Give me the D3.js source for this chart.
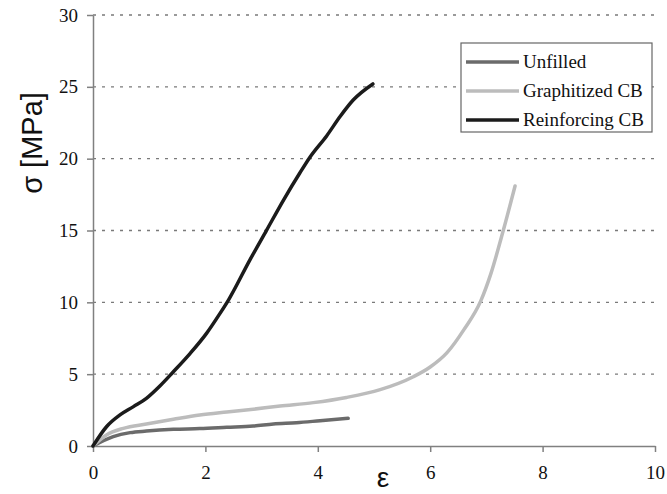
<!DOCTYPE html>
<html>
<head>
<meta charset="utf-8">
<script src="https://cdn.jsdelivr.net/npm/d3@7"></script>
<style>
  body { margin: 0; background: #fff; }
</style>
</head>
<body>
<div id="holder"></div>
<script>
const w = 667;
const h = 494;

// data (strain, stress in MPa)
const unfilledStrain = [0, 0.36, 0.66, 0.95, 1.43, 1.90, 2.38, 2.85, 3.21, 3.62, 4.04, 4.54];
const unfilledStress = [0, 0.65, 0.93, 1.04, 1.16, 1.21, 1.30, 1.39, 1.53, 1.62, 1.76, 1.93];

const graphStrain = [0, 0.24, 0.54, 0.95, 1.43, 1.90, 2.38, 2.85, 3.33, 3.92, 4.51, 5.11, 5.70, 6.0, 6.3, 6.6, 6.9, 7.08, 7.3, 7.51];
const graphStress = [0, 0.77, 1.23, 1.53, 1.86, 2.16, 2.37, 2.56, 2.78, 3.02, 3.38, 3.92, 4.82, 5.5, 6.5, 8.1, 10.1, 12.0, 15.0, 18.1];

const reinfStrain = [0, 0.24, 0.48, 0.72, 0.95, 1.19, 1.43, 1.73, 2.02, 2.26, 2.41, 2.79, 3.09, 3.39, 3.68, 3.86, 4.16, 4.40, 4.63, 4.98];
const reinfStress = [0, 1.34, 2.16, 2.74, 3.32, 4.18, 5.17, 6.45, 7.84, 9.23, 10.16, 12.94, 15.03, 17.12, 19.0, 20.1, 21.6, 22.95, 24.08, 25.2];

const seriesNames = ["Unfilled", "Graphitized CB", "Reinforcing CB"];
const xTicks = [0, 2, 4, 6, 8, 10];
const yTicks = [0, 5, 10, 15, 20, 25, 30];

const colors = {
    "Unfilled": "#6b6b6b",
    "Graphitized CB": "#bcbcbc",
    "Reinforcing CB": "#1b1b1b"
};

const series = [
    { name: "Unfilled", pts: unfilledStrain.map((x, i) => [x, unfilledStress[i]]) },
    { name: "Graphitized CB", pts: graphStrain.map((x, i) => [x, graphStress[i]]) },
    { name: "Reinforcing CB", pts: reinfStrain.map((x, i) => [x, reinfStress[i]]) }
];

const svg = d3.select("#holder")
    .append("svg")
    .attr("width", w)
    .attr("height", h)

const x = d3.scaleLinear().domain([0, 10]).range([93, 655]);
const y = d3.scaleLinear().domain([0, 30]).range([446, 15]);

// dotted gridlines
svg.selectAll(".grid")
    .data(yTicks.filter(d => d > 0))
    .join("line")
    .attr("class", "grid")
    .attr("x1", x(0))
    .attr("x2", x(10))
    .attr("y1", d => y(d))
    .attr("y2", d => y(d))
    .attr("stroke", "#7a7a7a")
    .attr("stroke-width", 1.3)
    .attr("stroke-dasharray", "3,6")

// axes
const xAxis = d3.axisBottom(x).tickValues(xTicks).tickSize(6).tickSizeOuter(0).tickPadding(14);
const yAxis = d3.axisLeft(y).tickValues(yTicks).tickSize(6).tickSizeOuter(0).tickPadding(9);

svg.append("g")
    .attr("transform", `translate(0,${y(0)})`)
    .call(xAxis)
    .call(g => g.selectAll(".domain, line").attr("stroke", "#808080").attr("stroke-width", 1.5))
    .call(g => g.selectAll("text")
        .style("font-family", "'Liberation Serif', 'Times New Roman', serif")
        .style("font-size", "19px")
        .attr("fill", "#111"))

svg.append("g")
    .attr("transform", `translate(${x(0)},0)`)
    .call(yAxis)
    .call(g => g.selectAll(".domain, line").attr("stroke", "#808080").attr("stroke-width", 1.5))
    .call(g => g.selectAll("text")
        .style("font-family", "'Liberation Serif', 'Times New Roman', serif")
        .style("font-size", "19px")
        .attr("fill", "#111"))

// curves
const line = d3.line()
    .x(d => x(d[0]))
    .y(d => y(d[1]))
    .curve(d3.curveMonotoneX)

svg.selectAll(".curve")
    .data(series)
    .join("path")
    .attr("class", "curve")
    .attr("d", d => line(d.pts))
    .attr("fill", "none")
    .attr("stroke", d => colors[d.name])
    .attr("stroke-width", 3.5)
    .attr("stroke-linecap", "round")
    .attr("stroke-linejoin", "round")

// axis titles
svg.append("text")
    .attr("transform", "translate(42,143) rotate(-90)")
    .attr("text-anchor", "middle")
    .style("font-family", "'Liberation Sans', Arial, sans-serif")
    .style("font-size", "29px")
    .attr("fill", "#111")
    .text("σ [MPa]")

svg.append("text")
    .attr("x", 383)
    .attr("y", 487)
    .attr("text-anchor", "middle")
    .style("font-family", "'Liberation Sans', Arial, sans-serif")
    .style("font-size", "28px")
    .attr("fill", "#111")
    .text("ε")

// legend
const legend = svg.append("g").attr("transform", "translate(461,43)");

legend.append("rect")
    .attr("width", 191)
    .attr("height", 89)
    .attr("fill", "#fff")
    .attr("stroke", "#666")
    .attr("stroke-width", 1.2)

const rows = legend.selectAll(".legend-item")
    .data(seriesNames)
    .join("g")
    .attr("class", "legend-item")
    .attr("transform", (d, i) => `translate(0,${19 + i * 29})`)

rows.append("line")
    .attr("x1", 5)
    .attr("x2", 58)
    .attr("stroke", d => colors[d])
    .attr("stroke-width", 3.5)

rows.append("text")
    .attr("x", 62)
    .attr("y", 6)
    .style("font-family", "'Liberation Serif', 'Times New Roman', serif")
    .style("font-size", "19px")
    .attr("fill", "#111")
    .text(d => d)
</script>
</body>
</html>
